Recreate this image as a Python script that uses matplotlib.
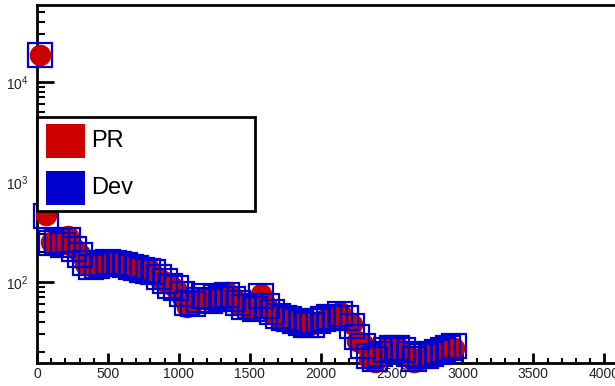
import numpy as np
import matplotlib
matplotlib.use('Agg')
import matplotlib.pyplot as plt
from matplotlib.patches import Rectangle
from matplotlib.ticker import MultipleLocator, LogLocator, NullFormatter

plt.rcParams['font.family'] = ['Liberation Sans', 'DejaVu Sans']
plt.rcParams['mathtext.fontset'] = 'custom'
plt.rcParams['mathtext.rm'] = 'Liberation Sans'
plt.rcParams['mathtext.it'] = 'Liberation Sans'
plt.rcParams['mathtext.default'] = 'regular'

# bin centres
x_vals = [20, 60, 100, 140, 180, 220, 260, 300, 340, 380,
          420, 460, 500, 540, 580, 620, 660, 700, 740, 780,
          820, 860, 900, 940, 980, 1020, 1060, 1100, 1140, 1180,
          1220, 1260, 1300, 1340, 1380, 1420, 1460, 1500, 1540, 1580,
          1620, 1660, 1700, 1740, 1780, 1820, 1860, 1900, 1940, 1980,
          2020, 2060, 2100, 2140, 2180, 2220, 2260, 2300, 2340, 2380,
          2420, 2460, 2500, 2540, 2580, 2620, 2660, 2700, 2740, 2780,
          2820, 2860, 2900, 2940]

pr_vals = [18600, 470, 250, 270, 240, 290, 220, 190, 150, 145,
           140, 160, 165, 150, 155, 145, 140, 135, 130, 140,
           120, 110, 100, 95, 85, 70, 56, 62, 68, 70,
           66, 72, 65, 80, 70, 60, 58, 55, 52, 76,
           58, 48, 45, 42, 45, 40, 38, 36, 38, 40,
           42, 44, 45, 50, 42, 38, 26, 24, 17, 16,
           20, 22, 21, 23, 20, 18, 16, 17, 19, 20,
           21, 22, 22, 22]

dev_vals = [18600, 460, 245, 255, 235, 265, 215, 185, 155, 140,
            145, 150, 160, 155, 150, 148, 142, 138, 132, 128,
            125, 112, 102, 92, 88, 75, 62, 60, 66, 72,
            64, 70, 68, 74, 68, 62, 56, 57, 54, 72,
            58, 50, 46, 44, 43, 41, 39, 37, 37, 41,
            43, 45, 44, 48, 44, 36, 28, 23, 18, 17,
            19, 21, 22, 22, 21, 19, 17, 18, 18, 19,
            20, 21, 22, 23]

labels = ['PR', 'Dev']
colors = ['#cc0000', '#0000cc']

W, H = 615, 386
fig = plt.figure(figsize=(W / 100, H / 100), dpi=100)
ax = fig.add_axes([37 / W, (H - 363) / H, 580 / W, 358 / H])

ax.plot(x_vals, pr_vals, 'o', ms=14.5, color=colors[0], mec=colors[0],
        clip_on=False, zorder=3)
ax.plot(x_vals, dev_vals, 's', ms=17, mfc='none', mec=colors[1], mew=1.6,
        clip_on=False, zorder=4)

ax.set_yscale('log')
ax.set_xlim(0, 4090)
ax.set_ylim(10 ** 1.19, 10 ** 4.77)

ax.xaxis.set_major_locator(MultipleLocator(500))
ax.xaxis.set_minor_locator(MultipleLocator(100))
ax.yaxis.set_major_locator(LogLocator(base=10, numticks=10))
ax.yaxis.set_minor_locator(LogLocator(base=10, subs=np.arange(2, 10), numticks=20))
ax.yaxis.set_minor_formatter(NullFormatter())

ax.tick_params(axis='both', which='both', direction='in', colors='black')
ax.tick_params(axis='both', which='both', labelcolor='#222222')
ax.tick_params(axis='y', which='major', length=12, width=2, labelsize=10, pad=6)
ax.tick_params(axis='y', which='minor', length=6, width=1.5)
ax.tick_params(axis='x', which='major', length=7, width=2, labelsize=10, pad=3)
ax.tick_params(axis='x', which='minor', length=3.5, width=1.5)

for s in ['left', 'bottom', 'top']:
    ax.spines[s].set_linewidth(2)
ax.spines['right'].set_visible(False)

# legend box
lx0, lx1 = 0.0, 218 / 580
ly0, ly1 = (363 - 211) / 358, (363 - 117) / 358
ax.add_patch(Rectangle((lx0, ly0), lx1 - lx0, ly1 - ly0, transform=ax.transAxes,
                       facecolor='white', edgecolor='black', lw=2,
                       zorder=10, clip_on=False))
ent_y = [(363 - 141) / 358, (363 - 188) / 358]
for lab, c, yy in zip(labels, colors, ent_y):
    ax.add_patch(Rectangle((9 / 580, yy - 17 / 358), 39 / 580, 34 / 358,
                           transform=ax.transAxes, facecolor=c, edgecolor='none',
                           zorder=11, clip_on=False))
    ax.text(54 / 580, yy, lab, transform=ax.transAxes, fontsize=17,
            va='center', ha='left', zorder=12)

fig.savefig('out.png', dpi=100)
